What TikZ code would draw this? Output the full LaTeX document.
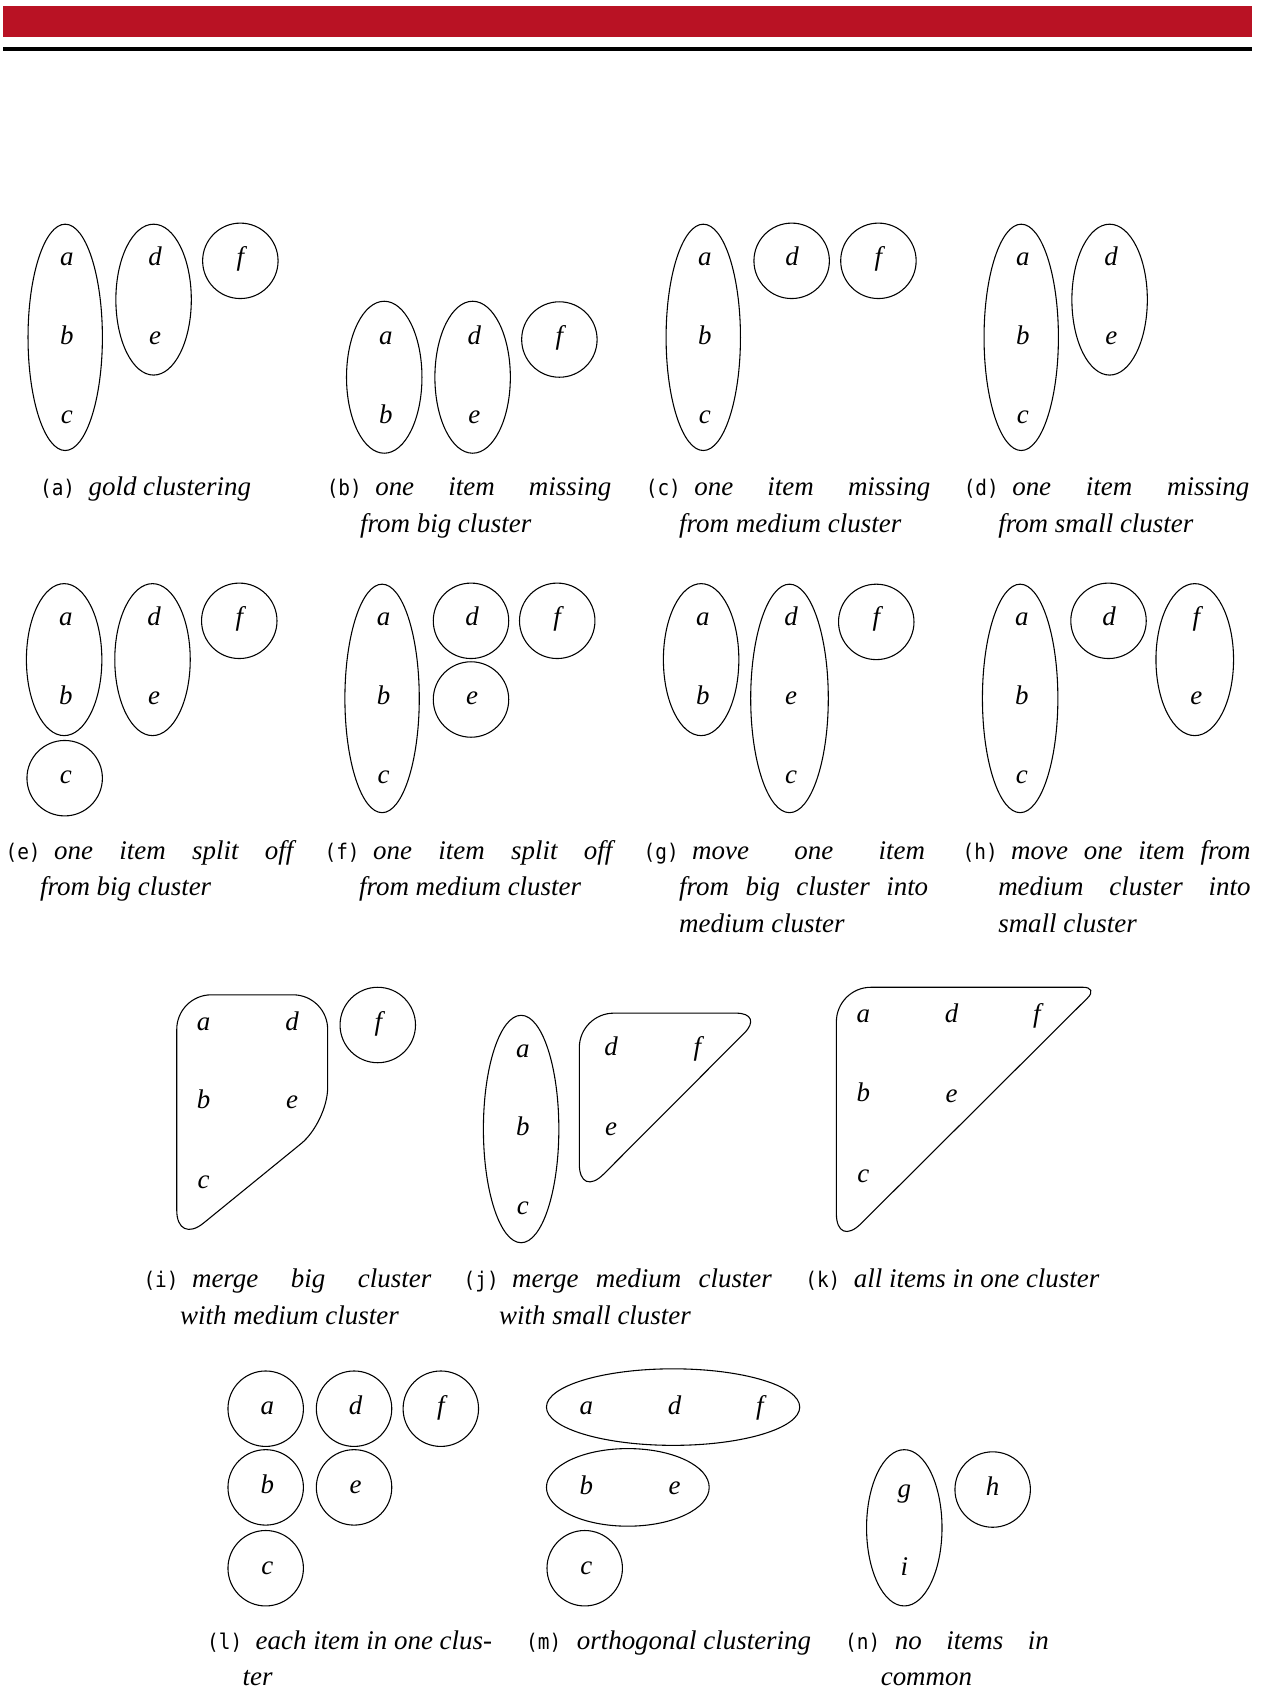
\documentclass[tikz,border=0pt]{standalone}
\usepackage{fontspec}
\setmainfont{Liberation Serif}
\newfontfamily\monof[FakeStretch=0.9]{DejaVu Sans Mono}
\usetikzlibrary{shapes.geometric}
\definecolor{barred}{RGB}{185,18,36}
\begin{document}
\begin{tikzpicture}[x=1pt,y=-1pt,
 item/.style={font=\fontsize{25}{30}\selectfont\itshape, inner sep=0pt, text height=13.5pt, text depth=0pt},
 clus/.style={draw, ellipse, inner sep=0pt, line width=1pt},
 sing/.style={draw, circle, inner sep=0pt, minimum size=70pt, line width=1pt},
 hull/.style={draw, line width=1pt, rounded corners=32pt},
 lab/.style={font=\fontsize{20}{29}\selectfont\monof, anchor=base west, inner sep=0pt},
 capt/.style={font=\fontsize{25}{30}\selectfont\itshape, anchor=base west, inner sep=0pt}]
\useasboundingbox (0,0) rectangle (1176,1568);
% header bars
\fill[barred] (3,5.6) rectangle (1162,34);
\fill[black] (3,43.6) rectangle (1162,47);

% ---------- (a) ----------
\begin{scope}[shift={(62,240)}]
\node[item] (a-a) at (0,0) {a};
\node[item] (a-b) at (0,73) {b};
\node[item] (a-c) at (0,146) {c};
\node[item] (a-d) at (82,0) {d};
\node[item] (a-e) at (82,73) {e};
\node[item] (a-f) at (161,0) {f};
\node[clus, minimum width=69pt, minimum height=210pt] (a-k1) at (-1.5,73) {};
\node[clus, minimum width=70pt, minimum height=140pt] (a-k2) at (80.5,38) {};
\node[sing] (a-k3) at (161,2) {};
\end{scope}
% ---------- (b) ----------
\begin{scope}[shift={(358,240)}]
\node[item] (b-a) at (0,73) {a};
\node[item] (b-b) at (0,146) {b};
\node[item] (b-d) at (82,73) {d};
\node[item] (b-e) at (82,146) {e};
\node[item] (b-f) at (161,73) {f};
\node[clus, minimum width=70pt, minimum height=141pt] (b-k1) at (-1.5,110) {};
\node[clus, minimum width=70pt, minimum height=141pt] (b-k2) at (80.5,110) {};
\node[sing] (b-k3) at (161,75) {};
\end{scope}
% ---------- (c) ----------
\begin{scope}[shift={(654,240)}]
\node[item] (c-a) at (0,0) {a};
\node[item] (c-b) at (0,73) {b};
\node[item] (c-c) at (0,146) {c};
\node[item] (c-d) at (81,0) {d};
\node[item] (c-f) at (161,0) {f};
\node[clus, minimum width=69pt, minimum height=210pt] (c-k1) at (-1.5,73) {};
\node[sing] (c-k2) at (80.5,2) {};
\node[sing] (c-k3) at (161,2) {};
\end{scope}
% ---------- (d) ----------
\begin{scope}[shift={(949,240)}]
\node[item] (d-a) at (0,0) {a};
\node[item] (d-b) at (0,73) {b};
\node[item] (d-c) at (0,146) {c};
\node[item] (d-d) at (82,0) {d};
\node[item] (d-e) at (82,73) {e};
\node[clus, minimum width=69pt, minimum height=210pt] (d-k1) at (-1.5,73) {};
\node[clus, minimum width=70pt, minimum height=140pt] (d-k2) at (80.5,38) {};
\end{scope}

% ---------- (e) ----------
\begin{scope}[shift={(61,574)}]
\node[item] (e-a) at (0,0) {a};
\node[item] (e-b) at (0,73) {b};
\node[item] (e-c) at (0,146) {c};
\node[item] (e-d) at (82,0) {d};
\node[item] (e-e) at (82,73) {e};
\node[item] (e-f) at (161,0) {f};
\node[clus, minimum width=70pt, minimum height=141pt] (e-k1) at (-1.5,38) {};
\node[clus, minimum width=70pt, minimum height=141pt] (e-k2) at (80.5,38) {};
\node[sing] (e-k3) at (161,2) {};
\node[sing] (e-k4) at (-1,148) {};
\end{scope}
% ---------- (f) ----------
\begin{scope}[shift={(356,574)}]
\node[item] (f-a) at (0,0) {a};
\node[item] (f-b) at (0,73) {b};
\node[item] (f-c) at (0,146) {c};
\node[item] (f-d) at (82,0) {d};
\node[item] (f-e) at (82,73) {e};
\node[item] (f-f) at (161,0) {f};
\node[clus, minimum width=69pt, minimum height=212pt] (f-k1) at (-1.5,74) {};
\node[sing] (f-k2) at (81,2) {};
\node[sing] (f-k3) at (81,75) {};
\node[sing] (f-k4) at (161,2) {};
\end{scope}
% ---------- (g) ----------
\begin{scope}[shift={(652,574)}]
\node[item] (g-a) at (0,0) {a};
\node[item] (g-b) at (0,73) {b};
\node[item] (g-d) at (82,0) {d};
\node[item] (g-e) at (82,73) {e};
\node[item] (g-c) at (82,146) {c};
\node[item] (g-f) at (161,0) {f};
\node[clus, minimum width=70pt, minimum height=141pt] (g-k1) at (-1.5,38) {};
\node[clus, minimum width=72pt, minimum height=212pt] (g-k2) at (80.5,74) {};
\node[sing] (g-k3) at (161,3) {};
\end{scope}
% ---------- (h) ----------
\begin{scope}[shift={(948,574)}]
\node[item] (h-a) at (0,0) {a};
\node[item] (h-b) at (0,73) {b};
\node[item] (h-c) at (0,146) {c};
\node[item] (h-d) at (81,0) {d};
\node[item] (h-f) at (162,0) {f};
\node[item] (h-e) at (162,73) {e};
\node[clus, minimum width=70pt, minimum height=212pt] (h-k1) at (-1.5,74) {};
\node[sing] (h-k2) at (80.5,2) {};
\node[clus, minimum width=72pt, minimum height=141pt] (h-k3) at (160.5,38) {};
\end{scope}

% ---------- (i) ----------
\node[item] (i-a) at (189,949) {a};
\node[item] (i-d) at (271,949) {d};
\node[item] (i-b) at (189,1022) {b};
\node[item] (i-e) at (271,1022) {e};
\node[item] (i-c) at (189,1096) {c};
\node[item] (i-f) at (351,949) {f};
\draw[hull] (164,1040) -- (164,923) -- (304,923) -- (304,1041) -- (164,1155) -- cycle;
\node[sing] (i-k2) at (350.5,951) {};
% ---------- (j) ----------
\node[item] (j-a) at (485,974) {a};
\node[item] (j-b) at (485,1047) {b};
\node[item] (j-c) at (485,1120) {c};
\node[item] (j-d) at (567,973) {d};
\node[item] (j-f) at (647,973) {f};
\node[item] (j-e) at (567,1047) {e};
\node[clus, minimum width=70pt, minimum height=211pt] (j-k1) at (483.5,1047.5) {};
\draw[hull] (537.5,1030) -- (537.5,940) [rounded corners=26pt] -- (709,940) [rounded corners=32pt] -- (537.5,1112) -- cycle;
% ---------- (k) ----------
\node[item] (k-a) at (801,942) {a};
\node[item] (k-d) at (883,942) {d};
\node[item] (k-f) at (962,942) {f};
\node[item] (k-b) at (801,1015) {b};
\node[item] (k-e) at (883,1016) {e};
\node[item] (k-c) at (801,1090) {c};
\draw[hull] (776,1040) -- (776,916) [rounded corners=14pt] -- (1019,916) [rounded corners=32pt] -- (776,1158) -- cycle;

% ---------- (l) ----------
\node[item] (l-a) at (248,1306) {a};
\node[item] (l-d) at (330,1306) {d};
\node[item] (l-f) at (409,1306) {f};
\node[item] (l-b) at (248,1379) {b};
\node[item] (l-e) at (330,1379) {e};
\node[item] (l-c) at (248,1454) {c};
\node[sing] (l-k1) at (246.5,1307) {};
\node[sing] (l-k2) at (328.5,1307) {};
\node[sing] (l-k3) at (409,1307) {};
\node[sing] (l-k4) at (246.5,1380) {};
\node[sing] (l-k5) at (328.5,1380) {};
\node[sing] (l-k6) at (246.5,1455) {};
% ---------- (m) ----------
\node[item] (m-a) at (544,1306) {a};
\node[item] (m-d) at (626,1306) {d};
\node[item] (m-f) at (705,1306) {f};
\node[item] (m-b) at (544,1380) {b};
\node[item] (m-e) at (626,1380) {e};
\node[item] (m-c) at (544,1454) {c};
\node[clus, minimum width=235pt, minimum height=71pt] (m-k1) at (624.5,1305.5) {};
\node[clus, minimum width=151pt, minimum height=72pt] (m-k2) at (582.5,1380) {};
\node[sing] (m-k3) at (542.5,1455) {};
% ---------- (n) ----------
\node[item] (n-g) at (839,1383) {g};
\node[item] (n-i) at (839,1455) {i};
\node[item] (n-h) at (921,1381) {h};
\node[clus, minimum width=70pt, minimum height=145pt] (n-k1) at (839,1417.5) {};
\node[sing] (n-k2) at (921,1382) {};

% ---------- captions ----------
\node[lab] (cap-a) at (37,460) {(a)};
\node[capt] (cap-a1) at (82,460) {gold clustering};
\node[lab] (cap-b) at (303,460) {(b)};
\node[capt] (cap-b1) at (348,460) {\makebox[219pt][s]{one item missing}};
\node[capt] (cap-b2) at (334,494) {from big cluster};
\node[lab] (cap-c) at (599,460) {(c)};
\node[capt] (cap-c1) at (644,460) {\makebox[219pt][s]{one item missing}};
\node[capt] (cap-c2) at (630,494) {from medium cluster};
\node[lab] (cap-d) at (894,460) {(d)};
\node[capt] (cap-d1) at (939,460) {\makebox[220pt][s]{one item missing}};
\node[capt] (cap-d2) at (926,494) {from small cluster};

\node[lab] (cap-e) at (5,797) {(e)};
\node[capt] (cap-e1) at (50,797) {\makebox[222pt][s]{one item split off}};
\node[capt] (cap-e2) at (37,831) {from big cluster};
\node[lab] (cap-f) at (301,797) {(f)};
\node[capt] (cap-f1) at (346,797) {\makebox[222pt][s]{one item split off}};
\node[capt] (cap-f2) at (333,831) {from medium cluster};
\node[lab] (cap-g) at (597,797) {(g)};
\node[capt] (cap-g1) at (642,797) {\makebox[216pt][s]{move one item}};
\node[capt] (cap-g2) at (630,831) {\makebox[231pt][s]{from big cluster into}};
\node[capt] (cap-g3) at (630,865) {medium cluster};
\node[lab] (cap-h) at (893,797) {(h)};
\node[capt] (cap-h1) at (938,797) {\makebox[222pt][s]{move one item from}};
\node[capt] (cap-h2) at (926,831) {\makebox[234pt][s]{medium cluster into}};
\node[capt] (cap-h3) at (926,865) {small cluster};

\node[lab] (cap-i) at (133,1195) {(i)};
\node[capt] (cap-i1) at (178,1195) {\makebox[222pt][s]{merge big cluster}};
\node[capt] (cap-i2) at (167,1229) {with medium cluster};
\node[lab] (cap-j) at (430,1195) {(j)};
\node[capt] (cap-j1) at (475,1195) {\makebox[241pt][s]{merge medium cluster}};
\node[capt] (cap-j2) at (463,1229) {with small cluster};
\node[lab] (cap-k) at (747,1195) {(k)};
\node[capt] (cap-k1) at (792,1195) {all items in one cluster};

\node[lab] (cap-l) at (192,1530) {(l)};
\node[capt] (cap-l1) at (237,1530) {each item in one clus-};
\node[capt] (cap-l2) at (225,1564) {ter};
\node[lab] (cap-m) at (488,1530) {(m)};
\node[capt] (cap-m1) at (535,1530) {orthogonal clustering};
\node[lab] (cap-n) at (784,1530) {(n)};
\node[capt] (cap-n1) at (830,1530) {\makebox[143pt][s]{no items in}};
\node[capt] (cap-n2) at (817,1564) {common};
\end{tikzpicture}
\end{document}
